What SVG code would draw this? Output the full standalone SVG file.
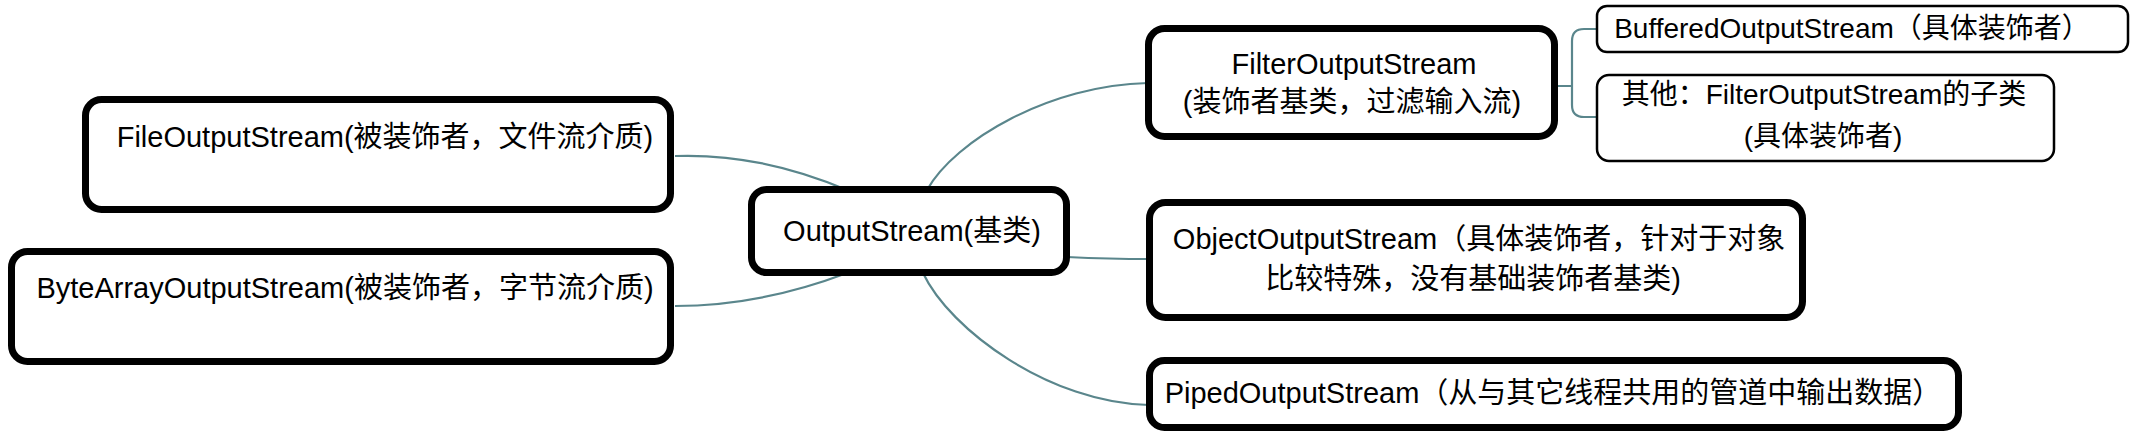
<svg xmlns="http://www.w3.org/2000/svg" width="2130" height="440" viewBox="0 0 2130 440">
<style>
.main{fill:#fff;stroke:#000;stroke-width:7}
.sub{fill:#fff;stroke:#000;stroke-width:2.5}
.t{font-family:"Liberation Sans","Noto Sans CJK SC",sans-serif;font-size:29px;fill:#000;text-anchor:middle}
.ts{font-family:"Liberation Sans","Noto Sans CJK SC",sans-serif;font-size:28px;fill:#000;text-anchor:middle}
.c{fill:none;stroke:#5a868c;stroke-width:2.2}
</style>
<rect width="2130" height="440" fill="#fff"/>
<g id="connectors">
<path class="c" d="M675,156 Q760,153 847,190"/>
<path class="c" d="M675,306 Q760,306 847,273"/>
<path class="c" d="M927,190 C955,140 1050,85 1148,83"/>
<path class="c" d="M1067,257 Q1110,259 1149,259"/>
<path class="c" d="M923,273 C950,330 1050,403 1149,405"/>
<path class="c" d="M1555,86 H1572 M1596,29 H1584 Q1572,29 1572,41 V105 Q1572,117 1584,117 H1596"/>
</g>
<g id="n-file">
<rect class="main" x="85.5" y="99.5" width="585" height="110" rx="16"/>
<text class="t" x="385" y="147">FileOutputStream(被装饰者，文件流介质)</text>
</g>
<g id="n-bytearray">
<rect class="main" x="11.5" y="251.5" width="659" height="110" rx="16"/>
<text class="t" x="345" y="298">ByteArrayOutputStream(被装饰者，字节流介质)</text>
</g>
<g id="n-root">
<rect class="main" x="751.5" y="189.5" width="315" height="83" rx="15"/>
<text class="t" x="912" y="241">OutputStream(基类)</text>
</g>
<g id="n-filter">
<rect class="main" x="1148.5" y="28.5" width="406" height="108" rx="16"/>
<text class="t" x="1354" y="74">FilterOutputStream</text>
<text class="t" x="1352" y="112">(装饰者基类，过滤输入流)</text>
</g>
<g id="n-buffered">
<rect class="sub" x="1597" y="6" width="531" height="46" rx="10"/>
<text class="ts" x="1852" y="38">BufferedOutputStream（具体装饰者）</text>
</g>
<g id="n-other">
<rect class="sub" x="1597" y="75" width="457" height="86" rx="12"/>
<text class="ts" x="1824" y="104">其他：FilterOutputStream的子类</text>
<text class="ts" x="1823" y="146">(具体装饰者)</text>
</g>
<g id="n-object">
<rect class="main" x="1149.5" y="202.5" width="653" height="115" rx="16"/>
<text class="t" x="1479" y="249">ObjectOutputStream（具体装饰者，针对于对象</text>
<text class="t" x="1473" y="289">比较特殊，没有基础装饰者基类)</text>
</g>
<g id="n-piped">
<rect class="main" x="1149.5" y="360.5" width="809" height="67" rx="15"/>
<text class="t" x="1553" y="403">PipedOutputStream（从与其它线程共用的管道中输出数据）</text>
</g>
</svg>
